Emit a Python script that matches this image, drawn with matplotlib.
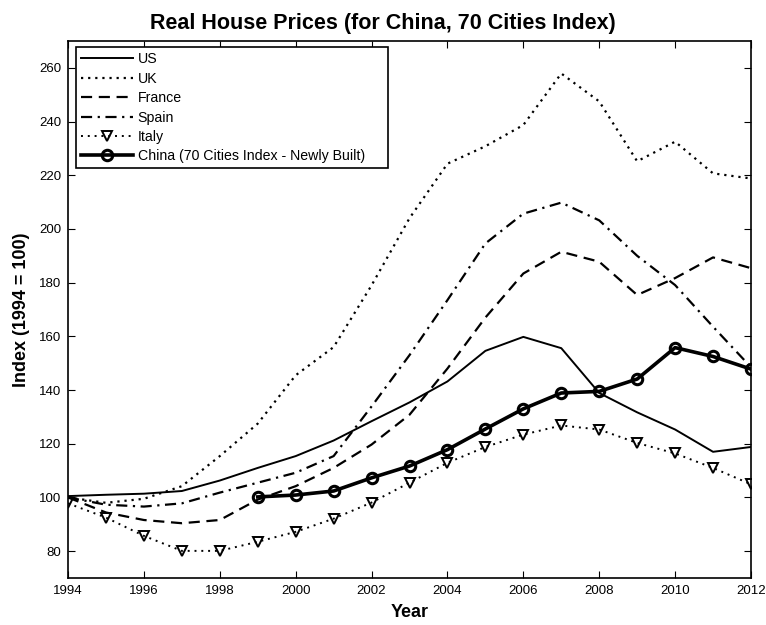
import matplotlib.pyplot as plt
import numpy as np

plt.rcParams['font.family'] = ['Liberation Sans', 'DejaVu Sans']

years = list(range(1994, 2013))
us = [100.5, 101, 101.4, 102.4, 106.3, 111, 115.4, 121.2, 128.4, 135.4,
      143.2, 154.6, 159.8, 155.6, 138.9, 131.7, 125.3, 117, 118.8]
uk = [100, 98, 99.5, 104.2, 115.4, 127.5, 145.5, 156, 179, 204,
      224.3, 230.8, 238.7, 257.9, 247.5, 225.2, 232.5, 220.7, 218.8]
france = [100, 94.4, 91.6, 90.4, 91.6, 99.2, 104.2, 111, 119.7, 130.8,
          148, 167, 183.4, 191.5, 187.8, 175.4, 181.7, 189.4, 185.4]
spain = [100, 97.3, 96.6, 97.8, 101.8, 105.5, 109.2, 115.4, 133.9, 153,
         173.5, 194.6, 205.7, 209.8, 203.2, 190, 179.1, 163.6, 148.5]
italy = [97.8, 92.5, 85.7, 80.1, 80.1, 83.5, 87.2, 92.1, 98.1, 105.5,
         112.9, 118.8, 123.4, 126.8, 125.3, 120.3, 116.4, 111, 104.9]
china_years = list(range(1999, 2013))
china = [100.2, 100.9, 102.4, 107.3, 111.7, 117.8, 125.5, 133, 138.9,
         139.5, 144.1, 155.8, 152.5, 147.8]

fig = plt.figure(figsize=(7.66, 6.25), dpi=100)
ax = fig.add_axes([0.0888, 0.0752, 0.8916, 0.8592])

ax.plot(years, us, color='black', lw=1.4, label='US')
ax.plot(years, uk, color='black', lw=1.6, ls=(0, (1, 2.2)), label='UK')
ax.plot(years, france, color='black', lw=1.6, ls=(0, (5, 3)), label='France')
ax.plot(years, spain, color='black', lw=1.6, ls=(0, (5, 2.5, 1, 2.5)), label='Spain')
ax.plot(years, italy, color='black', lw=1.4, ls=(0, (1, 2.5)), marker='v',
        ms=6.5, mfc='none', mec='black', mew=1.4, label='Italy')
ax.plot(china_years, china, color='black', lw=2.6, marker='o', ms=7.5,
        mfc='none', mec='black', mew=2.2,
        label='China (70 Cities Index - Newly Built)')

ax.set_xlim(1994, 2012)
ax.set_ylim(70, 270)
ax.set_xticks(range(1994, 2013, 2))
ax.set_yticks(range(80, 261, 20))
ax.tick_params(direction='in', top=True, right=True, length=5, labelsize=9.5,
               pad=5)
for s in ax.spines.values():
    s.set_linewidth(1.2)

# title is centred on the figure, not on the axes
ax.set_title('Real House Prices (for China, 70 Cities Index)', fontsize=15.5,
             fontweight='bold', pad=9, x=0.461)
ax.set_xlabel('Year', fontsize=13, fontweight='bold', labelpad=5)
ax.set_ylabel('Index (1994 = 100)', fontsize=13, fontweight='bold', labelpad=6)

leg = ax.legend(loc='upper left', bbox_to_anchor=(0.0117, 0.0, 0.457, 0.988),
                mode='expand', fontsize=10.2, handlelength=3.7, numpoints=1,
                fancybox=False, framealpha=1, borderaxespad=0.0,
                labelspacing=0.38, handletextpad=0.3, borderpad=0.35)
leg.get_frame().set_edgecolor('black')
leg.get_frame().set_linewidth(1.2)

fig.savefig('out.png', dpi=100)
